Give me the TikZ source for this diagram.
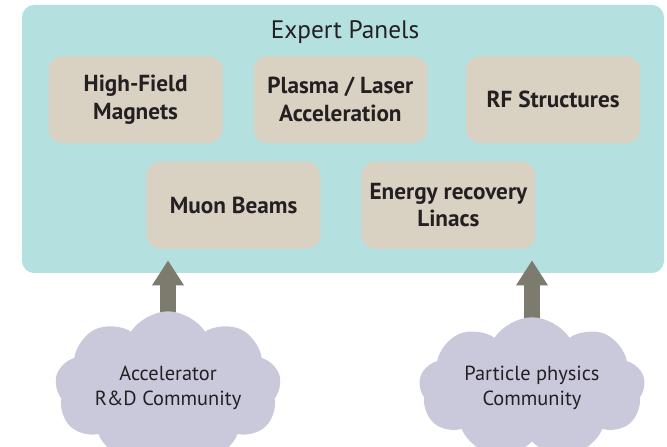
\documentclass[tikz,border=0pt]{standalone}
\usepackage{fontspec}
\setmainfont{PT Sans}
\usepackage{xcolor}
\definecolor{panelfill}{rgb}{0.71,0.88,0.88}
\definecolor{topicfill}{rgb}{0.85,0.82,0.76}
\definecolor{arrowfill}{rgb}{0.49,0.48,0.43}
\definecolor{cloudfill}{rgb}{0.79,0.79,0.86}
\definecolor{textdraw}{rgb}{0.14,0.12,0.13}
\usepackage{tikz}
\usetikzlibrary{positioning,arrows.meta,shapes.symbols,backgrounds}

\begin{document}
\begin{tikzpicture}[
  every node/.style={align=center, inner sep=2pt, text=textdraw},
  panelbox/.style ={rectangle, rounded corners=0.3cm, fill=panelfill, minimum width=16.05cm, minimum height=6.7cm},
  topicbox/.style ={rectangle, rounded corners=0.35cm, fill=topicfill, minimum width=4.35cm, minimum height=2.175cm,
                    font=\fontsize{16.5}{19.5}\selectfont\bfseries},
  community/.style={cloud, cloud puffs=9, cloud puff arc=115, aspect=1.7, fill=cloudfill,
                    minimum width=5.65cm, minimum height=3.0cm, inner sep=0pt, font=\fontsize{14.5}{17.8}\selectfont},
  feed/.style     ={-{Triangle[width=0.75cm, length=0.625cm]}, line width=0.4cm, draw=arrowfill}
]
\useasboundingbox (0,0) rectangle (16.675,-11.175);

\begin{pgfonlayer}{background}
\node[panelbox] (panel) at (8.575,-3.475) {};
\end{pgfonlayer}
\node[font=\fontsize{18}{21}\selectfont] (title) at (8.625,-0.8) {Expert Panels};

\node[topicbox] (magnets) at ( 3.39,-2.49) {High-Field\\Magnets};
\node[topicbox] (plasma)  at ( 8.51,-2.49) {Plasma / Laser\\Acceleration};
\node[topicbox] (rf)      at (13.83,-2.49) {RF Structures};
\node[topicbox] (muon)    at ( 5.84,-5.13) {Muon Beams};
\node[topicbox] (erl)     at (11.21,-5.13) {Energy recovery\\Linacs};

\node[community] (accel)    at ( 4.2,-9.7) {Accelerator\\R\&D Community};
\node[community] (particle) at (13.3,-9.7) {Particle physics\\Community};

% arrows sit under the clouds but over the panel
\begin{pgfonlayer}{background}
\draw[feed] (accel.center) -- ([yshift=0.325cm]accel.center |- panel.south);
\draw[feed] (particle.center) -- ([yshift=0.325cm]particle.center |- panel.south);
\end{pgfonlayer}

\end{tikzpicture}
\end{document}
